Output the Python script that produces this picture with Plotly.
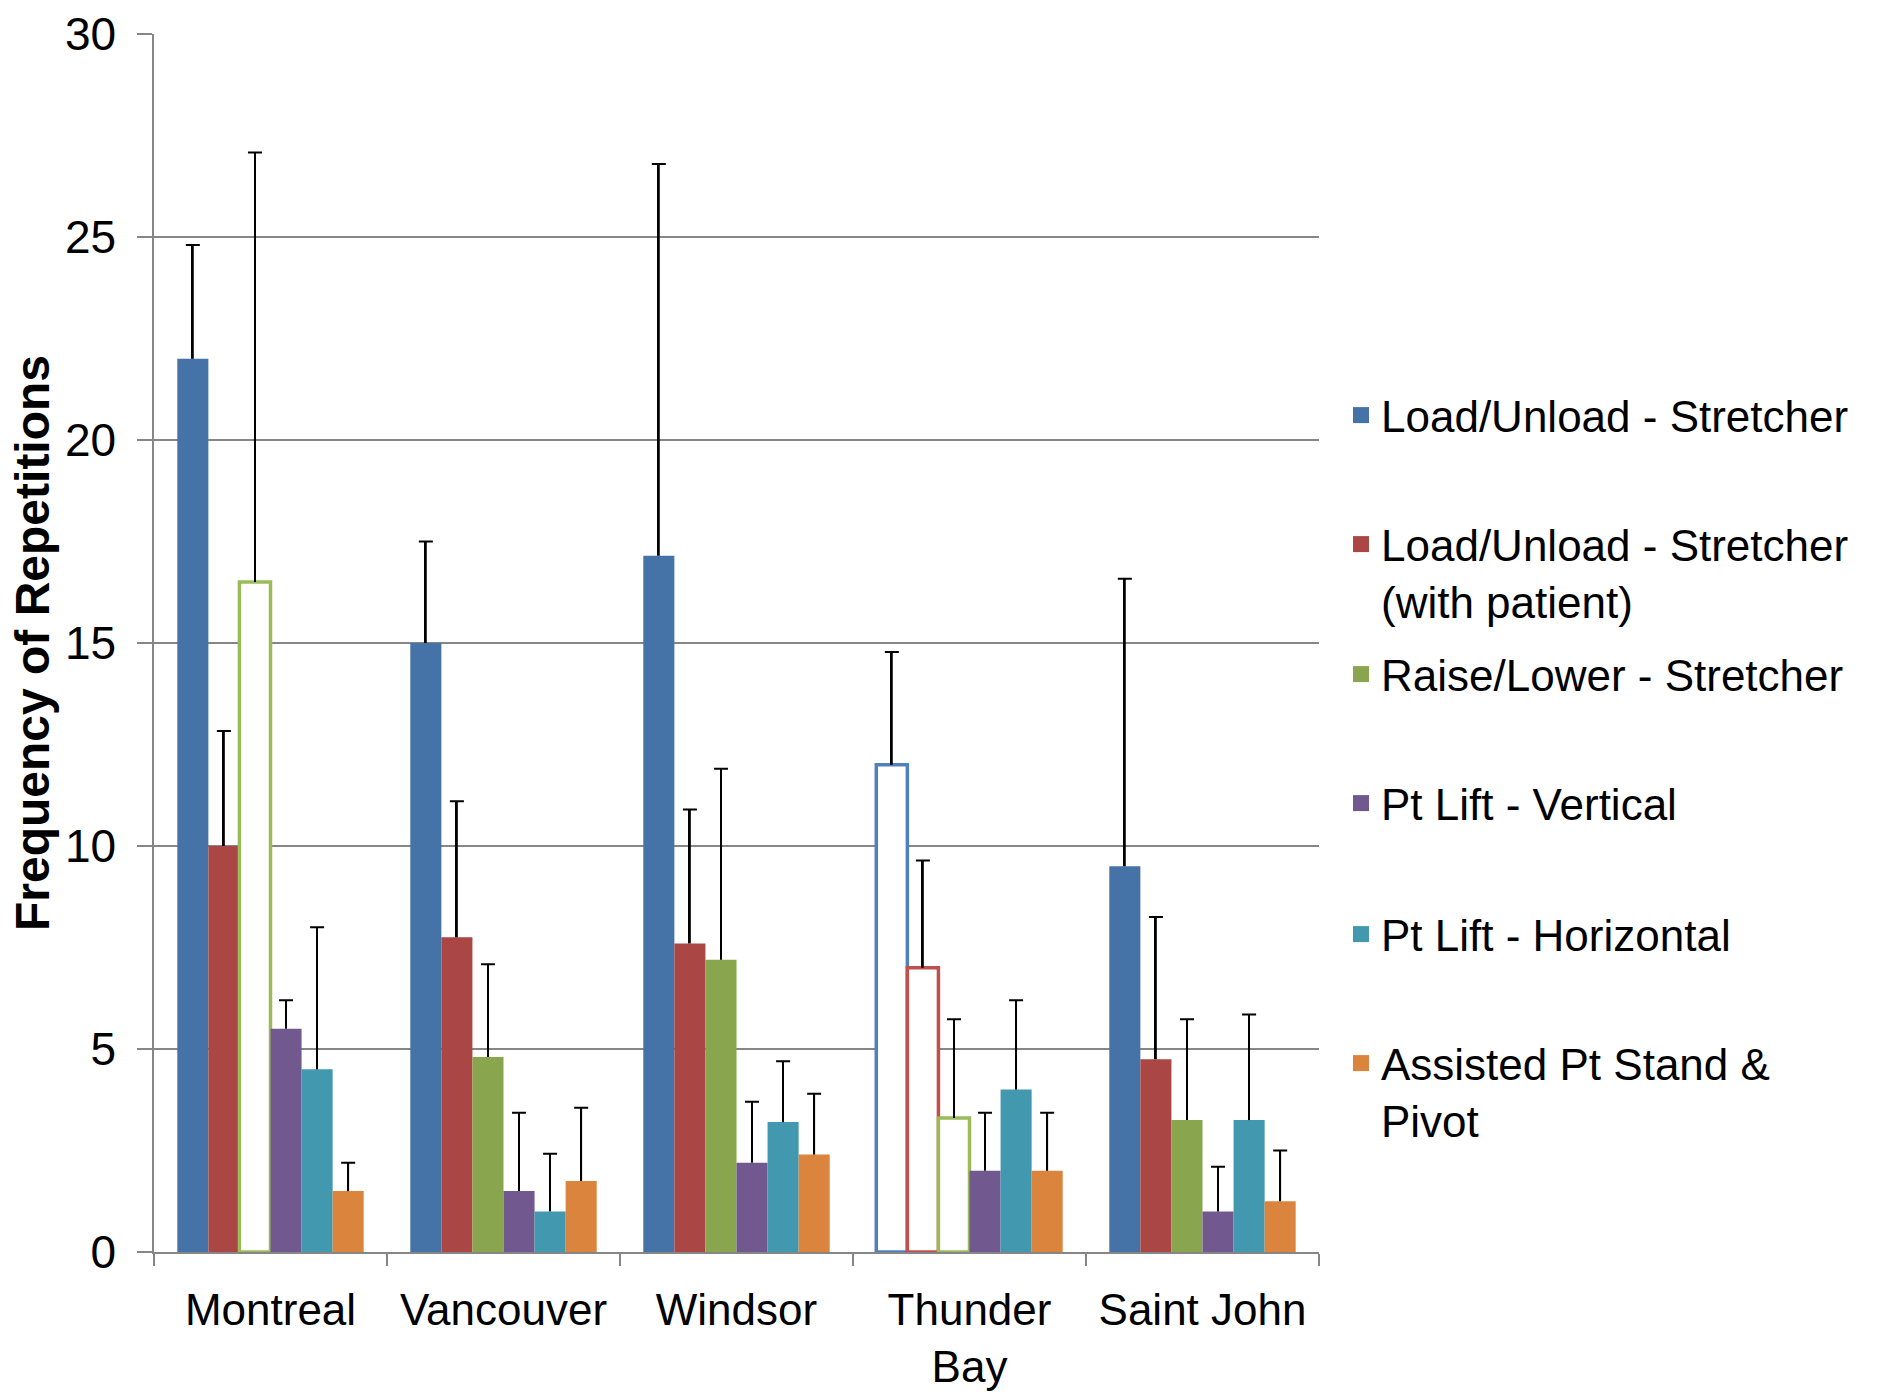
import plotly.graph_objects as go

# ---------------- data ----------------
cities = ["Montreal", "Vancouver", "Windsor", "Thunder Bay", "Saint John"]
city_labels = ["Montreal", "Vancouver", "Windsor", "Thunder<br>Bay", "Saint John"]

series_names = [
    "Load/Unload - Stretcher",
    "Load/Unload - Stretcher<br>(with patient)",
    "Raise/Lower - Stretcher",
    "Pt Lift - Vertical",
    "Pt Lift - Horizontal",
    "Assisted Pt Stand &<br>Pivot",
]

load_unload = [22.0, 15.0, 17.15, 12.0, 9.5]
load_unload_err = [2.8, 2.5, 9.65, 2.78, 7.08]

load_unload_patient = [10.0, 7.75, 7.6, 7.0, 4.75]
load_unload_patient_err = [2.83, 3.35, 3.3, 2.64, 3.5]

raise_lower = [16.5, 4.8, 7.2, 3.3, 3.25]
raise_lower_err = [10.58, 2.29, 4.7, 2.43, 2.48]

lift_vertical = [5.5, 1.5, 2.2, 2.0, 1.0]
lift_vertical_err = [0.7, 1.93, 1.5, 1.43, 1.1]

lift_horizontal = [4.5, 1.0, 3.2, 4.0, 3.25]
lift_horizontal_err = [3.5, 1.42, 1.5, 2.2, 2.6]

stand_pivot = [1.5, 1.75, 2.4, 2.0, 1.25]
stand_pivot_err = [0.7, 1.8, 1.5, 1.43, 1.25]

# which bars are drawn as outlines only (per city)
load_unload_hollow = [False, False, False, True, False]
load_unload_patient_hollow = [False, False, False, True, False]
raise_lower_hollow = [True, False, False, True, False]
no_hollow = [False] * 5

values = [load_unload, load_unload_patient, raise_lower, lift_vertical, lift_horizontal, stand_pivot]
errors = [load_unload_err, load_unload_patient_err, raise_lower_err, lift_vertical_err, lift_horizontal_err, stand_pivot_err]
hollows = [load_unload_hollow, load_unload_patient_hollow, raise_lower_hollow, no_hollow, no_hollow, no_hollow]

fill_colors = ["#4572A7", "#AA4643", "#89A54E", "#71588F", "#4198AF", "#DB843D"]
outline_colors = ["#4F81BD", "#C0504D", "#9BBB59", "#8064A2", "#4BACC6", "#F79646"]

FONT = "Liberation Sans, Arial, sans-serif"
GRID = "#868686"

# ---------------- layout geometry (pixels) ----------------
W, H = 1883, 1394
PL, PR, PT, PB = 154, 1319, 34, 1252  # plot area


def to_paper_y(p):
    return (PB - p) / (PB - PT)


def to_paper_x(p):
    return (p - PL) / (PR - PL)


fig = go.Figure()

for i in range(len(values)):
    hol = hollows[i]
    fig.add_trace(go.Bar(
        x=cities, y=values[i], name=series_names[i],
        offsetgroup=str(i), showlegend=False,
        marker=dict(
            color=["white" if h else fill_colors[i] for h in hol],
            line=dict(color=[outline_colors[i] if h else fill_colors[i] for h in hol],
                      width=[3.5 if h else 0 for h in hol]),
        ),
    ))
    # error bar stem (upper half only) with a cap at the top
    fig.add_trace(go.Bar(
        x=cities, y=errors[i], base=values[i],
        offsetgroup=str(i), showlegend=False, width=0.008,
        marker=dict(color="black", line=dict(width=0)),
        error_y=dict(type="constant", value=0, width=7, thickness=2, color="black"),
        hoverinfo="skip",
    ))

# legend entries (one legend per entry to reproduce the spacing)
legend_centers = [415, 544, 674, 803, 934, 1063]
for i in range(len(values)):
    lname = "legend" if i == 0 else f"legend{i + 1}"
    fig.add_trace(go.Scatter(
        x=[None], y=[None], mode="markers", name=series_names[i],
        marker=dict(symbol="square", size=17, color=fill_colors[i]),
        legend=lname, showlegend=True,
    ))

layout_legends = {}
for i, c in enumerate(legend_centers):
    lname = "legend" if i == 0 else f"legend{i + 1}"
    layout_legends[lname] = dict(
        x=to_paper_x(1341), y=to_paper_y(c - 35),
        xanchor="left", yanchor="top",
        font=dict(family=FONT, size=44, color="black"),
        bgcolor="rgba(0,0,0,0)", valign="top", itemclick=False,
    )

fig.update_layout(
    width=W, height=H,
    margin=dict(l=PL, r=W - PR, t=PT, b=H - PB, pad=0, autoexpand=False),
    paper_bgcolor="white", plot_bgcolor="white",
    barmode="group", bargap=0.2, bargroupgap=0,
    font=dict(family=FONT, color="black"),
    **layout_legends,
)

fig.update_xaxes(
    type="category", categoryorder="array", categoryarray=cities,
    tickvals=cities, ticktext=city_labels,
    showline=True, linecolor=GRID, linewidth=1.5,
    ticks="outside", tickson="boundaries", ticklen=12, tickcolor=GRID, tickwidth=1.5,
    tickfont=dict(family=FONT, size=44, color="black"),
    ticklabelstandoff=18, showgrid=False, zeroline=False, automargin=False,
)

fig.update_yaxes(
    range=[0, 30], dtick=5, tick0=0,
    showline=True, linecolor=GRID, linewidth=1.5,
    ticks="outside", ticklen=15, tickcolor=GRID, tickwidth=1.5,
    showgrid=True, gridcolor=GRID, gridwidth=1.5, zeroline=False,
    tickfont=dict(family=FONT, size=46, color="black"),
    ticklabelstandoff=12, automargin=False,
    title=dict(text="Frequency of Repetitions", standoff=0,
               font=dict(family=FONT, size=48, color="black", weight="bold")),
)

fig.write_html(
    "out.html",
    config={"displayModeBar": False},
    post_script="document.body.style.margin='0px';",
)
